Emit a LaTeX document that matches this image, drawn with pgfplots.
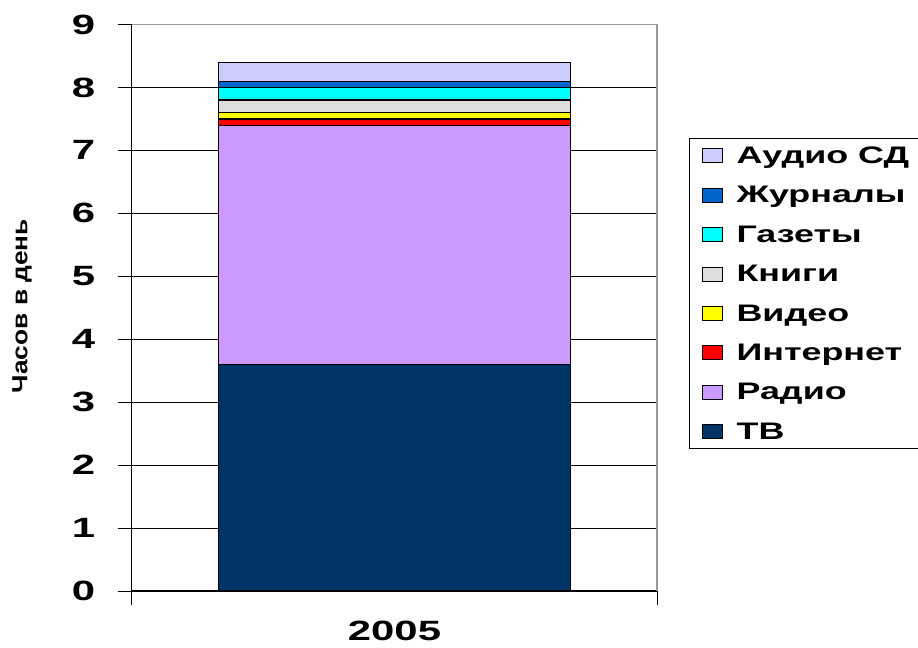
\documentclass[border=0pt]{standalone}
\usepackage{pgfplots}
\pgfplotsset{compat=1.18}
\usepackage{pgfplotstable}
\usepackage{fontspec}
\setmainfont{Liberation Sans}[FakeStretch=1.5]
\newfontfamily\labelfont{Liberation Sans}[FakeStretch=1.2]
\newfontfamily\legendfont{Liberation Sans}[FakeStretch=1.5]

\definecolor{tvc}{HTML}{003366}
\definecolor{radioc}{HTML}{CC99FF}
\definecolor{netc}{HTML}{FF0000}
\definecolor{videoc}{HTML}{FFFF00}
\definecolor{booksc}{HTML}{DDDDDD}
\definecolor{newsc}{HTML}{00FFFF}
\definecolor{magsc}{HTML}{0066CC}
\definecolor{audioc}{HTML}{CCCCFF}

% hours per day, 2005
\pgfplotstableread{
x tv radio internet video books news mags audio
0 3.6 3.8 0.1 0.1 0.2 0.2 0.1 0.3
}\hours

\begin{document}
\begin{tikzpicture}
\useasboundingbox (0,0) rectangle (918bp,648bp);
\begin{axis}[
  at={(131.7bp,57bp)}, anchor=south west,
  scale only axis,
  width=525.6bp, height=566.5bp,
  xmin=-1, xmax=1, ymin=0, ymax=9,
  ybar stacked, bar width=352bp,
  axis lines*=left,
  axis line style={black, line width=1.2bp, -},
  xtick={-1,1}, xticklabels={},
  extra x ticks={0}, extra x tick labels={2005},
  extra x tick style={major tick length=0pt, xticklabel style={yshift=-27bp}},
  xticklabel style={font=\fontsize{28}{32}\selectfont\bfseries},
  ytick={0,...,9},
  yticklabel style={font=\fontsize{28}{32}\selectfont\bfseries, xshift=-19bp},
  /pgf/number format/assume math mode=true,
  tick align=outside,
  major tick length=14bp,
  tick style={black, line width=1bp},
  ymajorgrids, grid style={black, line width=0.9bp},
  ylabel={Часов в день},
  ylabel style={at={(axis description cs:-0.2087,0.503)}, anchor=center,
    font=\labelfont\fontsize{22}{26}\selectfont\bfseries},
  reverse legend,
  legend cell align=left,
  legend style={at={(1.0603,0.7996)}, anchor=north west,
    draw=black, line width=1.2bp,
    font=\legendfont\fontsize{24}{27}\selectfont\bfseries,
    row sep=17.5bp, inner xsep=12bp, inner ysep=6bp,
    /tikz/every odd column/.append style={column sep=12bp}},
  legend image code/.code={\draw[#1,draw=black,line width=1bp] (0bp,-7bp) rectangle (20bp,7bp);},
  every axis plot/.append style={draw=black, line width=1.2bp},
]
\addplot[fill=tvc] table[x=x,y=tv] {\hours};
\addplot[fill=radioc] table[x=x,y=radio] {\hours};
\addplot[fill=netc] table[x=x,y=internet] {\hours};
\addplot[fill=videoc] table[x=x,y=video] {\hours};
\addplot[fill=booksc] table[x=x,y=books] {\hours};
\addplot[fill=newsc] table[x=x,y=news] {\hours};
\addplot[fill=magsc] table[x=x,y=mags] {\hours};
\addplot[fill=audioc] table[x=x,y=audio] {\hours};
\legend{ТВ,Радио,Интернет,Видео,Книги,Газеты,Журналы,Аудио СД}
\end{axis}
% plot-area frame on the top and right
\draw[gray!80, line width=1.8bp] (131.7bp,623.5bp) -- (657.3bp,623.5bp) -- (657.3bp,57bp);
\end{tikzpicture}
\end{document}
